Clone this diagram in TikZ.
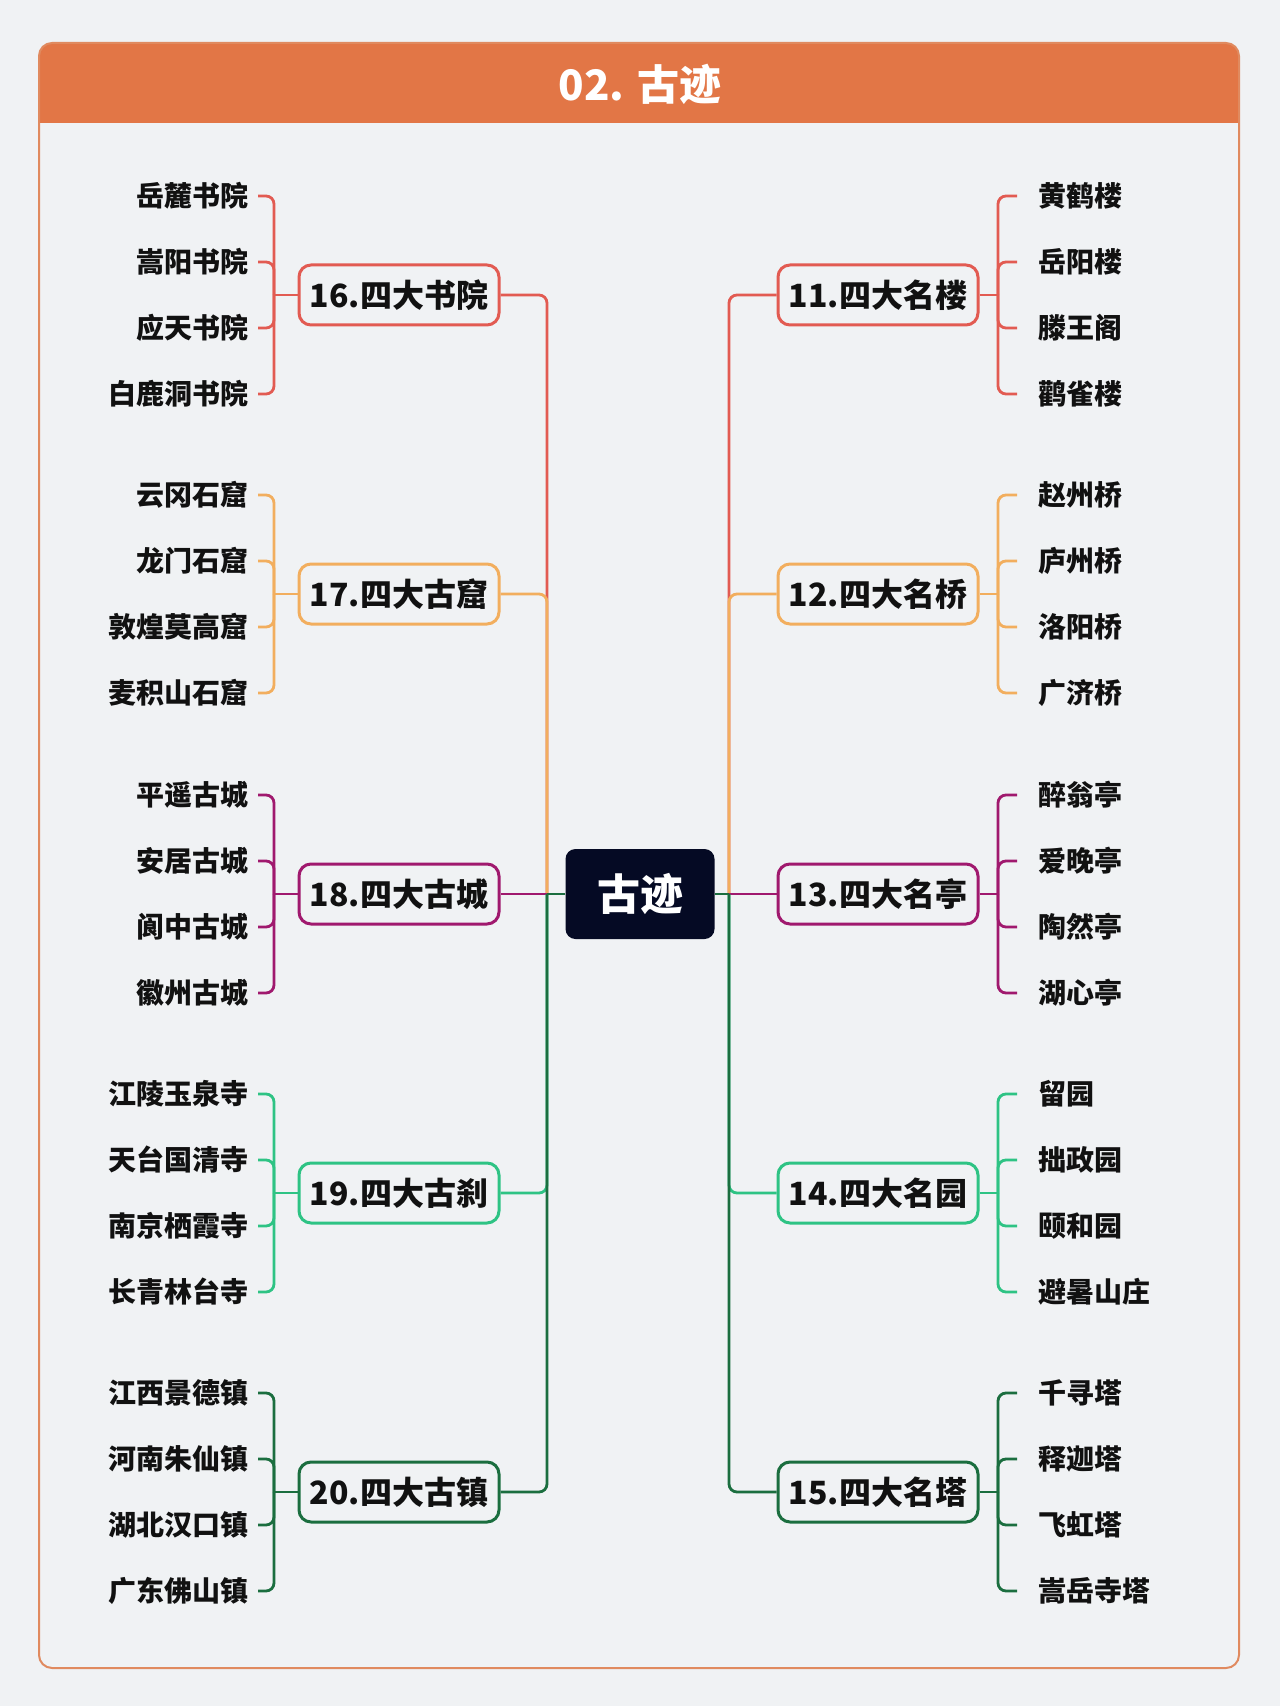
\documentclass[tikz,border=0pt]{standalone}
\usepackage{fontspec}
\setmainfont{Noto Sans CJK SC}
\definecolor{bgc}{HTML}{F0F2F4}
\definecolor{hdr}{HTML}{E27646}
\definecolor{frm}{HTML}{E08A5F}
\definecolor{cred}{HTML}{E25B52}
\definecolor{corg}{HTML}{F2AE5E}
\definecolor{cpur}{HTML}{A0196E}
\definecolor{cteal}{HTML}{2EC384}
\definecolor{cdgr}{HTML}{1B6E3F}
\definecolor{cnav}{HTML}{050A24}
\definecolor{txt}{HTML}{111111}
\tikzset{
  topic/.style={rectangle, rounded corners=6pt, line width=1.5pt, fill=bgc,
    minimum width=100pt, minimum height=30pt, inner sep=0pt, text=txt,
    font=\bfseries\fontsize{16}{18}\selectfont},
  leafL/.style={anchor=east, inner xsep=4.5pt, inner ysep=0pt, text=txt,
    font=\bfseries\fontsize{14}{16}\selectfont},
  leafR/.style={anchor=west, inner xsep=10.5pt, inner ysep=0pt, text=txt,
    font=\bfseries\fontsize{14}{16}\selectfont},
  conn/.style={line width=1.4pt},
  elbow/.style={conn, rounded corners=4pt},
}
% #1 id, #2 y, #3 colour, #4 label, #5-#8 leaves
\newcommand\lbranch[8]{%
  \node[topic, draw=#3] (n#1) at (399,#2) {#4};
  \coordinate (b#1) at (274,#2);
  \node[leafL] (l#1a) at (258,#2-99) {#5};
  \node[leafL] (l#1b) at (258,#2-33) {#6};
  \node[leafL] (l#1c) at (258,#2+33) {#7};
  \node[leafL] (l#1d) at (258,#2+99) {#8};
  \draw[conn,#3] (n#1.west) -- (b#1);
  \foreach \s in {a,b,c,d}{\draw[elbow,#3] (b#1) |- (l#1\s.east);}
}
\newcommand\rbranch[8]{%
  \node[topic, draw=#3] (n#1) at (878,#2) {#4};
  \coordinate (b#1) at (998,#2);
  \node[leafR] (l#1a) at (1017,#2-99) {#5};
  \node[leafR] (l#1b) at (1017,#2-33) {#6};
  \node[leafR] (l#1c) at (1017,#2+33) {#7};
  \node[leafR] (l#1d) at (1017,#2+99) {#8};
  \draw[conn,#3] (n#1.east) -- (b#1);
  \foreach \s in {a,b,c,d}{\draw[elbow,#3] (b#1) |- (l#1\s.west);}
}
\begin{document}
\begin{tikzpicture}[x=0.5pt,y=-0.5pt]
\fill[bgc] (0,0) rectangle (1280,1706);
\useasboundingbox (0,0) rectangle (1280,1706);
% frame and header
\begin{scope}
  \clip (0,0) rectangle (1280,123);
  \fill[hdr, rounded corners=6.5pt] (39,43) rectangle (1239,300);
\end{scope}
\draw[frm, line width=1pt, rounded corners=6.5pt] (39,43) rectangle (1239,1668);
\node[text=white, font=\bfseries\fontsize{21}{24}\selectfont] (title) at (640,84) {02. 古迹};
% centre
\node[fill=cnav, rounded corners=5pt, minimum width=74.5pt, minimum height=45pt,
  inner sep=0pt, text=white, font=\bfseries\fontsize{21.5}{24}\selectfont] (c) at (640,894) {古迹};
\coordinate (tl) at (547,894);
\coordinate (tr) at (729,894);
% branches
\lbranch{16}{295}{cred}{16.四大书院}{岳麓书院}{嵩阳书院}{应天书院}{白鹿洞书院}
\lbranch{17}{594}{corg}{17.四大古窟}{云冈石窟}{龙门石窟}{敦煌莫高窟}{麦积山石窟}
\lbranch{18}{894}{cpur}{18.四大古城}{平遥古城}{安居古城}{阆中古城}{徽州古城}
\lbranch{19}{1193}{cteal}{19.四大古刹}{江陵玉泉寺}{天台国清寺}{南京栖霞寺}{长青林台寺}
\lbranch{20}{1492}{cdgr}{20.四大古镇}{江西景德镇}{河南朱仙镇}{湖北汉口镇}{广东佛山镇}
\rbranch{11}{295}{cred}{11.四大名楼}{黄鹤楼}{岳阳楼}{滕王阁}{鹳雀楼}
\rbranch{12}{594}{corg}{12.四大名桥}{赵州桥}{庐州桥}{洛阳桥}{广济桥}
\rbranch{13}{894}{cpur}{13.四大名亭}{醉翁亭}{爱晚亭}{陶然亭}{湖心亭}
\rbranch{14}{1193}{cteal}{14.四大名园}{留园}{拙政园}{颐和园}{避暑山庄}
\rbranch{15}{1492}{cdgr}{15.四大名塔}{千寻塔}{释迦塔}{飞虹塔}{嵩岳寺塔}
% trunk connectors (later ones drawn over earlier ones)
\draw[conn,cred] (c.west) -- (tl); \draw[elbow,cred] (tl) |- (n16.east);
\draw[conn,corg] (c.west) -- (tl); \draw[elbow,corg] (tl) |- (n17.east);
\draw[conn,cpur] (c.west) -- (n18.east);
\draw[conn,cteal] (c.west) -- (tl); \draw[elbow,cteal] (tl) |- (n19.east);
\draw[conn,cdgr] (c.west) -- (tl); \draw[elbow,cdgr] (tl) |- (n20.east);
\draw[conn,cred] (c.east) -- (tr); \draw[elbow,cred] (tr) |- (n11.west);
\draw[conn,corg] (c.east) -- (tr); \draw[elbow,corg] (tr) |- (n12.west);
\draw[conn,cpur] (c.east) -- (n13.west);
\draw[conn,cteal] (c.east) -- (tr); \draw[elbow,cteal] (tr) |- (n14.west);
\draw[conn,cdgr] (c.east) -- (tr); \draw[elbow,cdgr] (tr) |- (n15.west);
\end{tikzpicture}
\end{document}
